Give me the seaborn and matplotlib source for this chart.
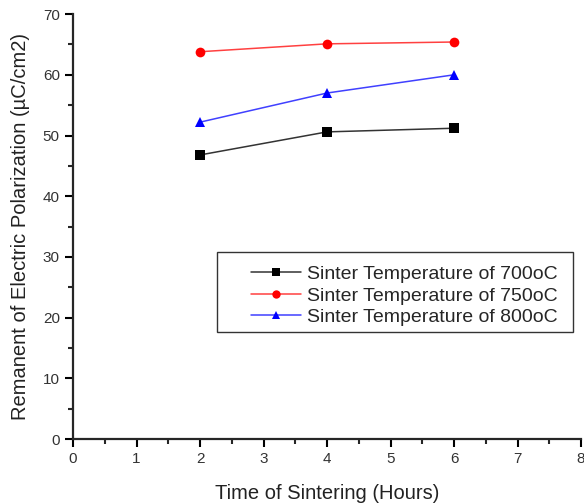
import pandas as pd
import matplotlib.pyplot as plt
import seaborn as sns
from matplotlib.ticker import MultipleLocator
from matplotlib.patches import Rectangle

# --- Data ---
hours = [2, 4, 6]
pol_700 = [46.8, 50.6, 51.2]
pol_750 = [63.8, 65.1, 65.4]
pol_800 = [52.2, 57.0, 60.0]
labels = ['Sinter Temperature of 700oC',
          'Sinter Temperature of 750oC',
          'Sinter Temperature of 800oC']

df = pd.DataFrame({
    'Hours': hours * 3,
    'Polarization': pol_700 + pol_750 + pol_800,
    'Series': [labels[0]] * 3 + [labels[1]] * 3 + [labels[2]] * 3,
})

sns.set_style('ticks')
plt.rcParams['font.family'] = ['Liberation Sans', 'DejaVu Sans']

fig = plt.figure(figsize=(5.84, 5.03), dpi=100)
ax = fig.add_axes([0.125, 0.127, 0.87, 0.845])

colors = ['black', 'red', 'blue']
line_colors = ['#333333', '#ff4040', '#4040ff']
palette = dict(zip(labels, colors))
markers = dict(zip(labels, ['s', 'o', '^']))

sns.lineplot(data=df, x='Hours', y='Polarization', hue='Series', style='Series',
             palette=palette, markers=markers, dashes=False, markersize=7,
             markeredgewidth=0, linewidth=1.1, ax=ax)

# lines a touch lighter than the solid markers
for line, lc, mc in zip(ax.lines[:3], line_colors, colors):
    line.set_color(lc)
    line.set_markerfacecolor(mc)
    line.set_markeredgecolor(mc)

ax.set_xlim(0, 8)
ax.set_ylim(0, 70)
ax.xaxis.set_major_locator(MultipleLocator(1))
ax.xaxis.set_minor_locator(MultipleLocator(0.5))
ax.yaxis.set_major_locator(MultipleLocator(10))
ax.yaxis.set_minor_locator(MultipleLocator(5))
ax.tick_params(which='major', direction='out', length=6, width=1.5, labelsize=11,
               colors='black', labelcolor='#333333')
ax.tick_params(which='minor', direction='out', length=3.5, width=1.5)
for side in ['left', 'bottom']:
    ax.spines[side].set_linewidth(1.6)
sns.despine(ax=ax)

ax.set_xlabel('Time of Sintering (Hours)', fontsize=14.5, labelpad=13, color='#222222')
ax.set_ylabel('Remanent of Electric Polarization (µC/cm2)', fontsize=14.5, labelpad=9,
              color='#222222')

# legend without its own frame; Origin-style box drawn separately
handles, lbls = ax.get_legend_handles_labels()
for h, lc, mc in zip(handles, line_colors, colors):
    h.set_color(lc)
    h.set_markerfacecolor(mc)
    h.set_markeredgecolor(mc)
    h.set_markersize(6)
leg = ax.legend(handles, lbls, loc='upper right', bbox_to_anchor=(0.985, 0.445),
                fontsize=14, frameon=False, handlelength=2.6, handletextpad=0.3,
                borderpad=0.3, labelspacing=0.2)
ax.add_patch(Rectangle((0.2835, 0.252), 0.70, 0.188, transform=ax.transAxes,
                       fill=False, edgecolor='#333333', linewidth=1, clip_on=False))

plt.savefig('out.png', dpi=100)
